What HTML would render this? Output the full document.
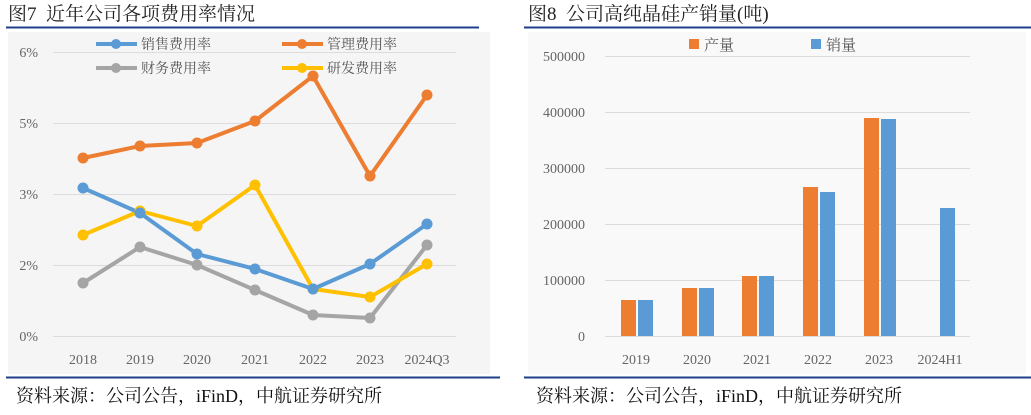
<!DOCTYPE html><html><head><meta charset="utf-8"><style>body{margin:0;background:#fff}svg{display:block}text{font-family:"Liberation Serif","Noto Serif CJK SC",serif}</style></head><body>
<svg width="1031" height="415" viewBox="0 0 1031 415" xmlns="http://www.w3.org/2000/svg">
<rect x="8" y="32" width="482" height="342" fill="#f5f5f5"/>
<rect x="528" y="32" width="498" height="342" fill="#f9f9f9"/>
<text x="8" y="20" font-size="19" fill="#222">图7&#160;&#160;近年公司各项费用率情况</text>
<text x="528" y="20" font-size="19" fill="#222">图8&#160;&#160;公司高纯晶硅产销量(吨)</text>
<line x1="6" y1="27.5" x2="479" y2="27.5" stroke="#1f3f8a" stroke-width="2"/>
<line x1="524" y1="27.5" x2="1031" y2="27.5" stroke="#1f3f8a" stroke-width="2"/>
<line x1="6" y1="377.5" x2="500" y2="377.5" stroke="#1f3f8a" stroke-width="2"/>
<line x1="524" y1="377.5" x2="1031" y2="377.5" stroke="#1f3f8a" stroke-width="2"/>
<text x="16" y="402" font-size="18" fill="#111">资料来源：公司公告，iFinD，中航证券研究所</text>
<text x="536" y="402" font-size="18" fill="#111">资料来源：公司公告，iFinD，中航证券研究所</text>
<g stroke="#dcdcdc" stroke-width="1">
<line x1="53" y1="52.5" x2="456" y2="52.5"/><line x1="53" y1="123.5" x2="456" y2="123.5"/><line x1="53" y1="194.5" x2="456" y2="194.5"/><line x1="53" y1="265.5" x2="456" y2="265.5"/><line x1="53" y1="336.5" x2="456" y2="336.5"/>
<line x1="605" y1="56.5" x2="970" y2="56.5"/><line x1="605" y1="112.5" x2="970" y2="112.5"/><line x1="605" y1="168.5" x2="970" y2="168.5"/><line x1="605" y1="224.5" x2="970" y2="224.5"/><line x1="605" y1="280.5" x2="970" y2="280.5"/><line x1="605" y1="336.5" x2="970" y2="336.5"/>
</g>
<g font-size="14" fill="#666" text-anchor="end">
<text x="38" y="57">6%</text><text x="38" y="128">5%</text><text x="38" y="199">3%</text><text x="38" y="270">2%</text><text x="38" y="341">0%</text>
<text x="585" y="61">500000</text><text x="585" y="117">400000</text><text x="585" y="173">300000</text><text x="585" y="229">200000</text><text x="585" y="285">100000</text><text x="585" y="341">0</text>
</g>
<g font-size="14" fill="#666" text-anchor="middle">
<text x="83" y="364">2018</text><text x="140" y="364">2019</text><text x="197" y="364">2020</text><text x="255" y="364">2021</text><text x="313" y="364">2022</text><text x="370" y="364">2023</text><text x="427" y="364">2024Q3</text>
<text x="636" y="364">2019</text><text x="697" y="364">2020</text><text x="757" y="364">2021</text><text x="818" y="364">2022</text><text x="879" y="364">2023</text><text x="940" y="364">2024H1</text>
</g>
<g stroke-width="4" fill="none" stroke-linejoin="round">
<polyline stroke="#a5a5a5" points="83,283 140,247 197,265 255,290 313,315 370,318 427,245"/>
<polyline stroke="#ffc000" points="83,235 140,211 197,226 255,185 313,289 370,297 427,264"/>
<polyline stroke="#5b9bd5" points="83,188 140,213 197,254 255,269 313,289 370,264 427,224"/>
<polyline stroke="#ed7d31" points="83,158 140,146 197,143 255,121 313,76 370,176 427,95"/>
</g>
<g fill="#a5a5a5"><circle cx="83" cy="283" r="5.5"/><circle cx="140" cy="247" r="5.5"/><circle cx="197" cy="265" r="5.5"/><circle cx="255" cy="290" r="5.5"/><circle cx="313" cy="315" r="5.5"/><circle cx="370" cy="318" r="5.5"/><circle cx="427" cy="245" r="5.5"/></g>
<g fill="#ffc000"><circle cx="83" cy="235" r="5.5"/><circle cx="140" cy="211" r="5.5"/><circle cx="197" cy="226" r="5.5"/><circle cx="255" cy="185" r="5.5"/><circle cx="313" cy="289" r="5.5"/><circle cx="370" cy="297" r="5.5"/><circle cx="427" cy="264" r="5.5"/></g>
<g fill="#5b9bd5"><circle cx="83" cy="188" r="5.5"/><circle cx="140" cy="213" r="5.5"/><circle cx="197" cy="254" r="5.5"/><circle cx="255" cy="269" r="5.5"/><circle cx="313" cy="289" r="5.5"/><circle cx="370" cy="264" r="5.5"/><circle cx="427" cy="224" r="5.5"/></g>
<g fill="#ed7d31"><circle cx="83" cy="158" r="5.5"/><circle cx="140" cy="146" r="5.5"/><circle cx="197" cy="143" r="5.5"/><circle cx="255" cy="121" r="5.5"/><circle cx="313" cy="76" r="5.5"/><circle cx="370" cy="176" r="5.5"/><circle cx="427" cy="95" r="5.5"/></g>
<g stroke-width="4">
<line x1="96" y1="44" x2="137" y2="44" stroke="#5b9bd5"/><circle cx="116" cy="44" r="5" fill="#5b9bd5"/>
<line x1="282" y1="44" x2="323" y2="44" stroke="#ed7d31"/><circle cx="302" cy="44" r="5" fill="#ed7d31"/>
<line x1="96" y1="68" x2="137" y2="68" stroke="#a5a5a5"/><circle cx="116" cy="68" r="5" fill="#a5a5a5"/>
<line x1="282" y1="68" x2="323" y2="68" stroke="#ffc000"/><circle cx="302" cy="68" r="5" fill="#ffc000"/>
</g>
<g font-size="14" fill="#555">
<text x="141" y="49">销售费用率</text><text x="327" y="49">管理费用率</text><text x="141" y="73">财务费用率</text><text x="327" y="73">研发费用率</text>
</g>
<rect x="689" y="39" width="10" height="10" fill="#ed7d31"/><text x="704" y="50" font-size="15" fill="#555">产量</text>
<rect x="811" y="39" width="10" height="10" fill="#5b9bd5"/><text x="826" y="50" font-size="15" fill="#555">销量</text>
<g fill="#ed7d31">
<rect x="621" y="300" width="15" height="36"/><rect x="682" y="288" width="15" height="48"/><rect x="742" y="276" width="15" height="60"/><rect x="803" y="187" width="15" height="149"/><rect x="864" y="118" width="15" height="218"/>
</g>
<g fill="#5b9bd5">
<rect x="638" y="300" width="15" height="36"/><rect x="699" y="288" width="15" height="48"/><rect x="759" y="276" width="15" height="60"/><rect x="820" y="192" width="15" height="144"/><rect x="881" y="119" width="15" height="217"/><rect x="940" y="208" width="15" height="128"/>
</g>
</svg>
</body></html>
